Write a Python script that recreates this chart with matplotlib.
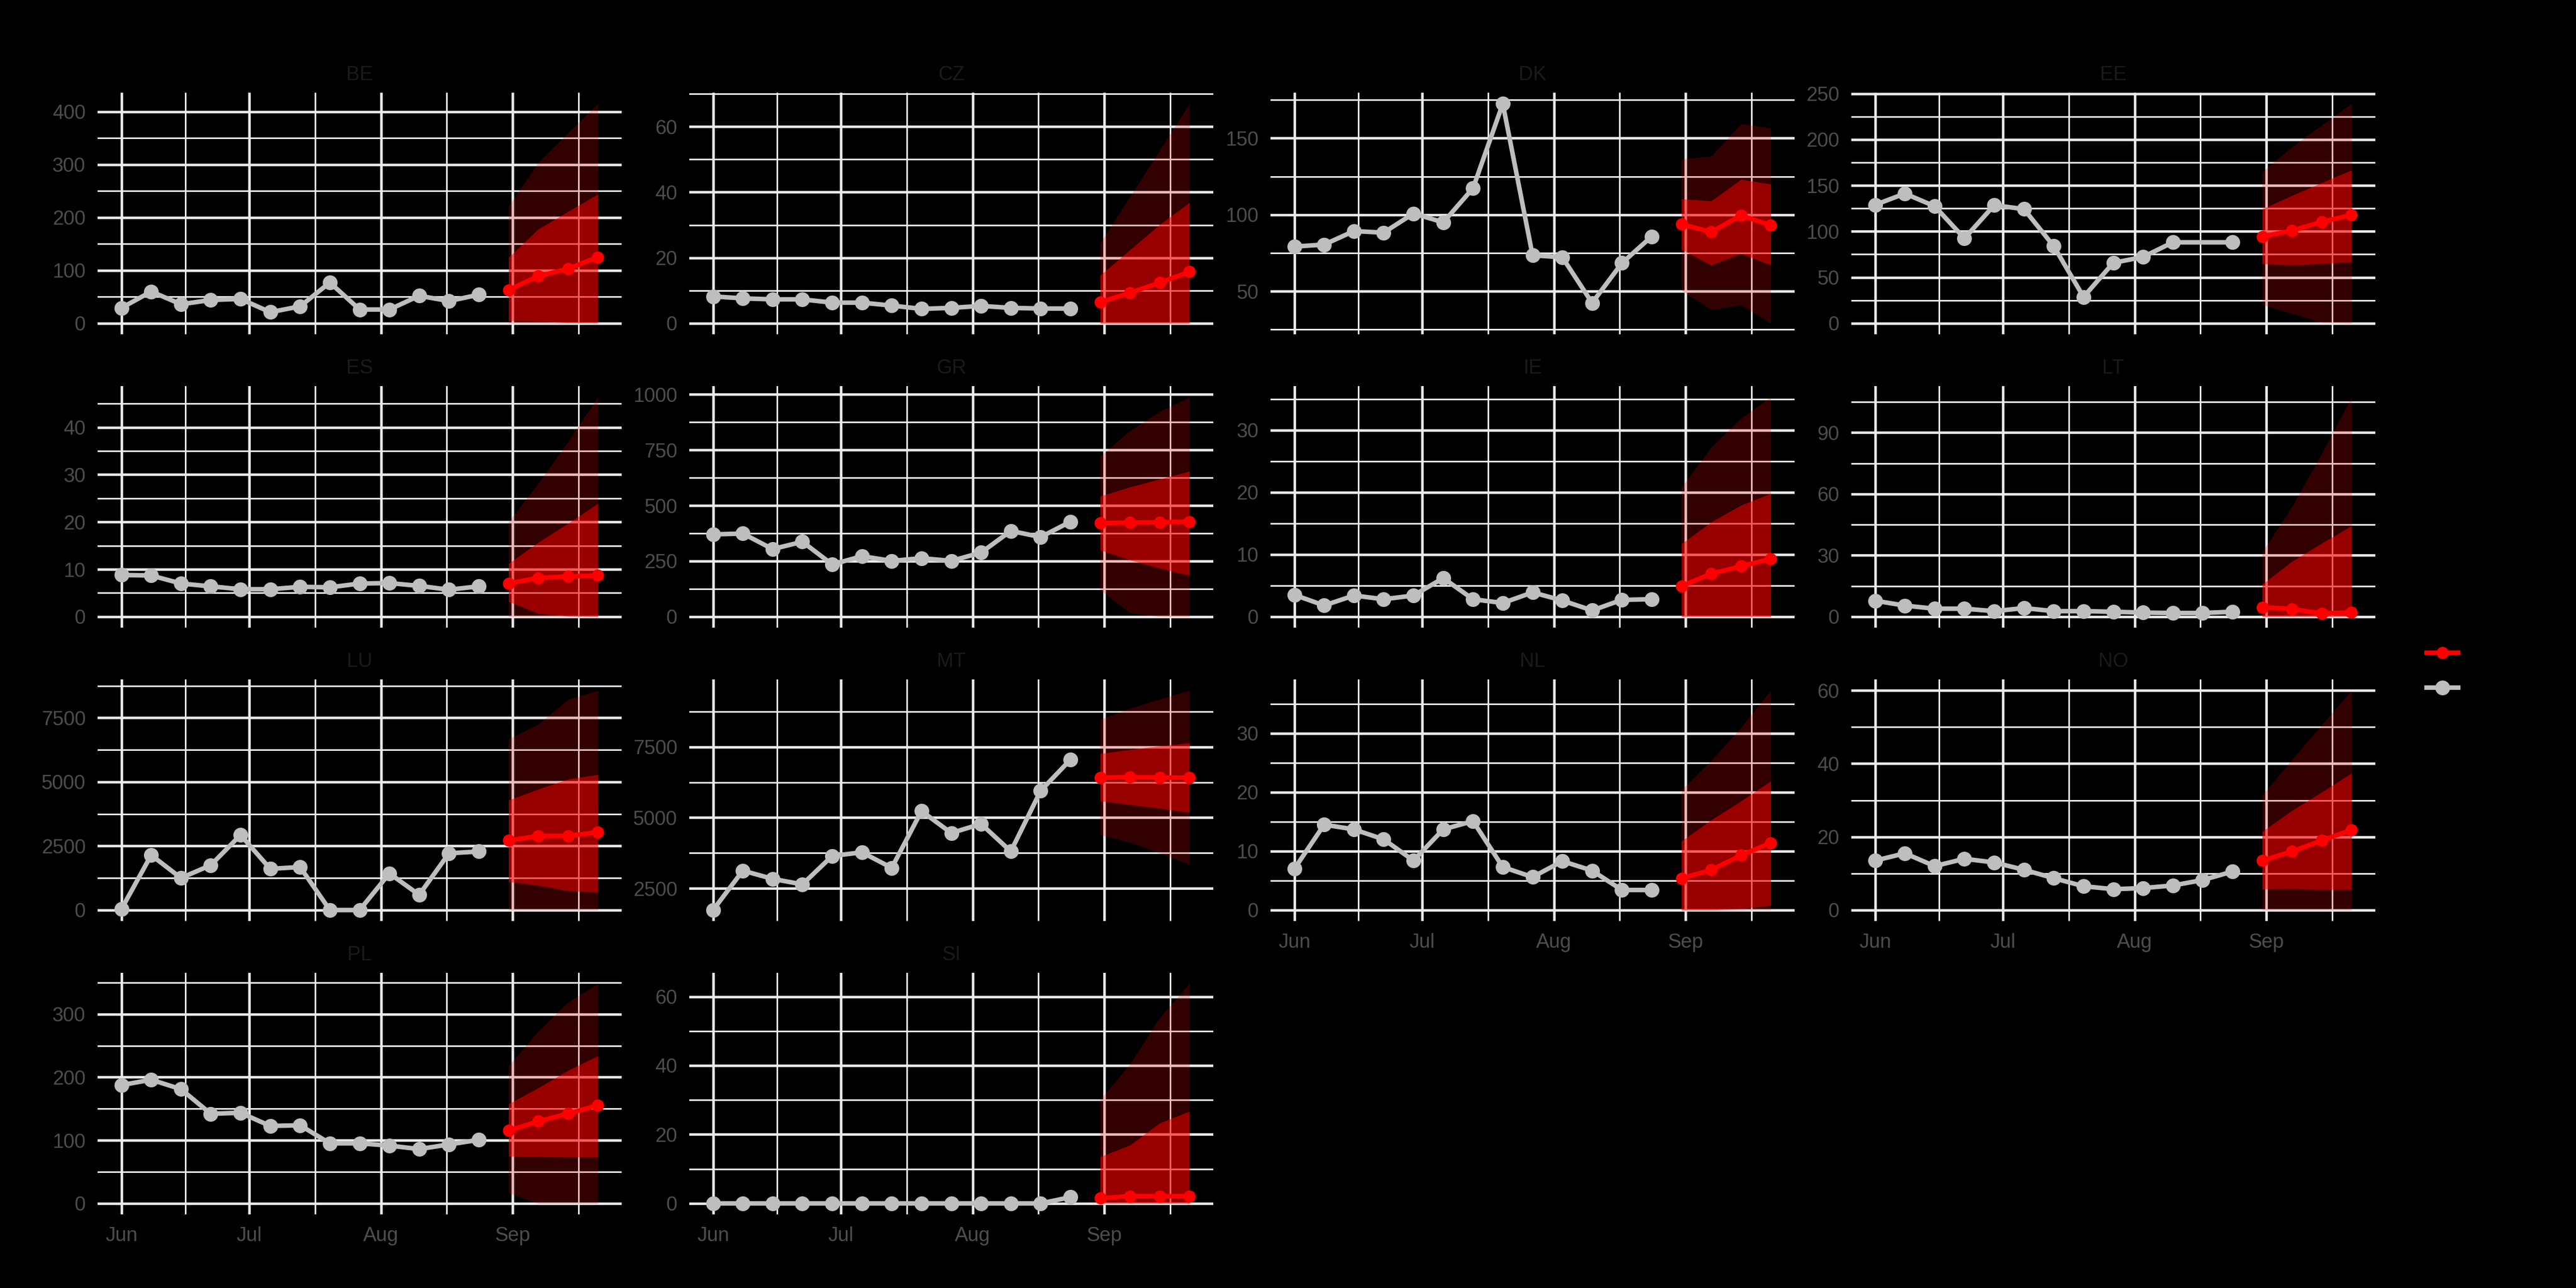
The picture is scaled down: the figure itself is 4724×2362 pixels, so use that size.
import numpy as np
import pandas as pd
import matplotlib
matplotlib.use("Agg")
import matplotlib.pyplot as plt
import matplotlib.dates as mdates
from matplotlib.lines import Line2D

# weekly observations and 4-week forecast
obs_dates = ["2020-06-01", "2020-06-08", "2020-06-15", "2020-06-22", "2020-06-29",
             "2020-07-06", "2020-07-13", "2020-07-20", "2020-07-27", "2020-08-03",
             "2020-08-10", "2020-08-17", "2020-08-24"]
fc_dates = ["2020-08-31", "2020-09-07", "2020-09-14", "2020-09-21"]
month_ticks = ["2020-06-01", "2020-07-01", "2020-08-01", "2020-09-01"]
month_labels = ["Jun", "Jul", "Aug", "Sep"]

BE_obs = [29, 60, 36, 44, 46, 21, 32, 77, 26, 26, 52, 42, 54]
BE_fc = [63, 89, 103, 125]
BE_lo80 = [5, 4, 1, 1]
BE_hi80 = [124, 178, 211, 244]
BE_lo95 = [0, 0, 0, 0]
BE_hi95 = [221, 304, 360, 415]
BE_ticks = [0, 100, 200, 300, 400]

CZ_obs = [8.2, 7.6, 7.3, 7.3, 6.3, 6.3, 5.4, 4.4, 4.7, 5.3, 4.7, 4.5, 4.5]
CZ_fc = [6.4, 9.3, 12.4, 15.7]
CZ_lo80 = [0, 0, 0, 0]
CZ_hi80 = [14.6, 22.4, 30.1, 36.8]
CZ_lo95 = [0, 0, 0, 0]
CZ_hi95 = [24.5, 38.6, 52.8, 67]
CZ_ticks = [0, 20, 40, 60]

DK_obs = [79.2, 80.5, 89.3, 88.3, 100.8, 95, 117.3, 172.5, 73.5, 72.2, 42.4, 68.4, 85.8]
DK_fc = [93.8, 88.7, 99.5, 93.1]
DK_lo80 = [77.3, 67.1, 74.7, 67.1]
DK_hi80 = [110.3, 109, 123, 120]
DK_lo95 = [50.6, 38, 41.1, 29.1]
DK_hi95 = [136.3, 138.2, 159.4, 156.6]
DK_ticks = [50, 100, 150]

EE_obs = [128.9, 141.2, 127.4, 92.4, 128.5, 124.3, 83.9, 28.7, 65.8, 72.2, 88.1, None, 88.1]
EE_fc = [94.5, 100.9, 110.4, 117.9]
EE_lo80 = [64.8, 63.3, 64.8, 66.9]
EE_hi80 = [124.3, 139, 153, 166.7]
EE_lo95 = [20.2, 10.6, 1, 0]
EE_hi95 = [164.6, 192, 215.6, 239]
EE_ticks = [0, 50, 100, 150, 200, 250]

ES_obs = [8.8, 8.7, 7.0, 6.4, 5.8, 5.8, 6.3, 6.2, 7.0, 7.1, 6.5, 5.7, 6.4]
ES_fc = [7.0, 8.2, 8.5, 8.7]
ES_lo80 = [3.2, 0.7, 0.1, 0]
ES_hi80 = [11.2, 15.7, 19.7, 23.9]
ES_lo95 = [0, 0, 0, 0]
ES_hi95 = [20, 28.2, 37, 46.4]
ES_ticks = [0, 10, 20, 30, 40]

GR_obs = [370, 374, 304, 337, 235, 272, 251, 263, 251, 288, 386, 358, 427]
GR_fc = [421, 423, 425, 427]
GR_lo80 = [300, 255, 218, 186]
GR_hi80 = [542, 583, 619, 654]
GR_lo95 = [120, 18, 0, 0]
GR_hi95 = [722, 836, 922, 988]
GR_ticks = [0, 250, 500, 750, 1000]

IE_obs = [3.5, 1.8, 3.4, 2.8, 3.4, 6.2, 2.8, 2.2, 3.9, 2.6, 1.0, 2.7, 2.8]
IE_fc = [4.9, 6.9, 8.1, 9.3]
IE_lo80 = [0, 0, 0, 0]
IE_hi80 = [11.7, 15.2, 17.9, 19.8]
IE_lo95 = [0, 0, 0, 0]
IE_hi95 = [20.8, 27.2, 31.9, 35.3]
IE_ticks = [0, 10, 20, 30]

LT_obs = [7.8, 5.4, 3.9, 3.9, 2.7, 4.2, 2.7, 2.7, 2.4, 2.0, 1.8, 1.8, 2.4]
LT_fc = [4.6, 3.8, 1.5, 2.1]
LT_lo80 = [0, 0, 0, 0]
LT_hi80 = [15.8, 27, 35.9, 44.4]
LT_lo95 = [0, 0, 0, 0]
LT_hi95 = [31.5, 53.8, 79.7, 107.4]
LT_ticks = [0, 30, 60, 90]

LU_obs = [36, 2143, 1250, 1750, 2929, 1607, 1679, 0, 0, 1429, 593, 2214, 2286]
LU_fc = [2714, 2893, 2893, 3036]
LU_lo80 = [1107, 964, 750, 693]
LU_hi80 = [4286, 4714, 5107, 5286]
LU_lo95 = [0, 0, 0, 0]
LU_hi95 = [6679, 7250, 8214, 8571]
LU_ticks = [0, 2500, 5000, 7500]

MT_obs = [1736, 3128, 2837, 2642, 3646, 3776, 3225, 5233, 4456, 4780, 3808, 5946, 7047]
MT_fc = [6412, 6432, 6419, 6412]
MT_lo80 = [5590, 5460, 5330, 5181]
MT_hi80 = [7261, 7403, 7533, 7643]
MT_lo95 = [4391, 4132, 3744, 3355]
MT_hi95 = [8472, 8860, 9184, 9495]
MT_ticks = [2500, 5000, 7500]

NL_obs = [7.0, 14.5, 13.7, 12.0, 8.4, 13.7, 15.1, 7.3, 5.6, 8.3, 6.7, 3.4, 3.4]
NL_fc = [5.4, 6.8, 9.3, 11.4]
NL_lo80 = [0, 0, 0.2, 0.8]
NL_hi80 = [11.7, 15.3, 18.5, 21.9]
NL_lo95 = [0, 0, 0, 0]
NL_hi95 = [20.4, 25.4, 31, 37.3]
NL_ticks = [0, 10, 20, 30]

NO_obs = [13.5, 15.5, 12.0, 14.0, 13.0, 11.0, 8.7, 6.5, 5.7, 6.0, 6.7, 8.2, 10.5]
NO_fc = [13.5, 16.0, 19.0, 21.9]
NO_lo80 = [5.7, 5.8, 5.6, 5.6]
NO_hi80 = [21.4, 27.2, 32.2, 37.4]
NO_lo95 = [0, 0, 0, 0]
NO_hi95 = [31.4, 41.1, 50.6, 60]
NO_ticks = [0, 20, 40, 60]

PL_obs = [187.5, 196, 181, 142, 143.6, 122.7, 123.8, 95.2, 95.2, 91.6, 86.1, 93.4, 100.7]
PL_fc = [115.4, 130, 142.1, 155.7]
PL_lo80 = [75, 74, 73.3, 73.3]
PL_hi80 = [157.5, 183, 210.6, 233.7]
PL_lo95 = [16.5, 0, 0, 0]
PL_hi95 = [218, 273, 318.7, 348]
PL_ticks = [0, 100, 200, 300]

SI_obs = [0, 0, 0, 0, 0, 0, 0, 0, 0, 0, 0, 0, 1.8]
SI_fc = [1.5, 2.1, 2.1, 2.1]
SI_lo80 = [0, 0, 0, 0]
SI_hi80 = [13.5, 16.9, 23.3, 26.7]
SI_lo95 = [0, 0, 0, 0]
SI_hi95 = [30.1, 40.4, 53.9, 63.7]
SI_ticks = [0, 20, 40, 60]

panels = [
    ("BE", BE_obs, BE_fc, BE_lo80, BE_hi80, BE_lo95, BE_hi95, BE_ticks),
    ("CZ", CZ_obs, CZ_fc, CZ_lo80, CZ_hi80, CZ_lo95, CZ_hi95, CZ_ticks),
    ("DK", DK_obs, DK_fc, DK_lo80, DK_hi80, DK_lo95, DK_hi95, DK_ticks),
    ("EE", EE_obs, EE_fc, EE_lo80, EE_hi80, EE_lo95, EE_hi95, EE_ticks),
    ("ES", ES_obs, ES_fc, ES_lo80, ES_hi80, ES_lo95, ES_hi95, ES_ticks),
    ("GR", GR_obs, GR_fc, GR_lo80, GR_hi80, GR_lo95, GR_hi95, GR_ticks),
    ("IE", IE_obs, IE_fc, IE_lo80, IE_hi80, IE_lo95, IE_hi95, IE_ticks),
    ("LT", LT_obs, LT_fc, LT_lo80, LT_hi80, LT_lo95, LT_hi95, LT_ticks),
    ("LU", LU_obs, LU_fc, LU_lo80, LU_hi80, LU_lo95, LU_hi95, LU_ticks),
    ("MT", MT_obs, MT_fc, MT_lo80, MT_hi80, MT_lo95, MT_hi95, MT_ticks),
    ("NL", NL_obs, NL_fc, NL_lo80, NL_hi80, NL_lo95, NL_hi95, NL_ticks),
    ("NO", NO_obs, NO_fc, NO_lo80, NO_hi80, NO_lo95, NO_hi95, NO_ticks),
    ("PL", PL_obs, PL_fc, PL_lo80, PL_hi80, PL_lo95, PL_hi95, PL_ticks),
    ("SI", SI_obs, SI_fc, SI_lo80, SI_hi80, SI_lo95, SI_hi95, SI_ticks),
]
bottom_panels = ["NL", "NO", "PL", "SI"]

plt.rcParams['font.family'] = ['Liberation Sans', 'DejaVu Sans']

W, H = 4724, 2362
fig = plt.figure(figsize=(W / 300, H / 300), dpi=300, facecolor='black')

# panel layout in pixels
lefts = [179, 1264, 2330, 3395]
tops = [170, 708, 1246, 1784]
pw, ph = 961, 443

ox_all = mdates.date2num(pd.to_datetime(obs_dates))
fx = mdates.date2num(pd.to_datetime(fc_dates))
mx = mdates.date2num(pd.to_datetime(month_ticks))
mx_minor = list((mx[:-1] + mx[1:]) / 2) + [mx[-1] + (mx[-1] - mx[-2]) / 2]

xmin, xmax = ox_all[0], fx[-1]
xpad = 0.05 * (xmax - xmin)

grey = '#BEBEBE'

for i, (name, obs, fc, lo80, hi80, lo95, hi95, yt) in enumerate(panels):
    r, c = divmod(i, 4)
    ax = fig.add_axes([lefts[c] / W, 1 - (tops[r] + ph) / H, pw / W, ph / H])
    ax.set_facecolor('none')
    ax.set_axisbelow(True)

    oy = np.array([np.nan if v is None else v for v in obs], dtype=float)
    ok = ~np.isnan(oy)

    ax.fill_between(fx, lo95, hi95, color='red', alpha=0.2, lw=0)
    ax.fill_between(fx, lo80, hi80, color='red', alpha=0.5, lw=0)
    ax.plot(ox_all[ok], oy[ok], color=grey, lw=2, marker='o', ms=5.5, zorder=3)
    ax.plot(fx, fc, color='red', lw=2, marker='o', ms=4.4, zorder=3)

    allv = np.concatenate([oy[ok], fc, lo80, hi80, lo95, hi95])
    ylo, yhi = allv.min(), allv.max()
    ypad = 0.05 * (yhi - ylo)
    ylo, yhi = ylo - ypad, yhi + ypad
    ax.set_xlim(xmin - xpad, xmax + xpad)
    ax.set_ylim(ylo, yhi)

    step = yt[1] - yt[0]
    ymin_ticks = [t + step / 2 for t in [yt[0] - step] + yt]
    ymin_ticks = [t for t in ymin_ticks if ylo <= t <= yhi]
    ax.set_yticks(yt)
    ax.set_yticks(ymin_ticks, minor=True)
    ax.set_xticks(mx)
    ax.set_xticks(mx_minor, minor=True)

    ax.grid(which='major', color='#EBEBEB', lw=1.1)
    ax.grid(which='minor', color='#EBEBEB', lw=0.7)
    ax.tick_params(which='both', length=0, labelsize=8.8, labelcolor='#4D4D4D', pad=5.3)
    for s in ax.spines.values():
        s.set_visible(False)

    if name in bottom_panels:
        ax.set_xticklabels(month_labels)
    else:
        ax.tick_params(axis='x', labelbottom=False)

    ax.set_title(name, fontsize=8.8, color='#1A1A1A', pad=5.5)

handles = [
    Line2D([], [], color='red', lw=2, marker='o', ms=4.4),
    Line2D([], [], color=grey, lw=2, marker='o', ms=5.5),
]
fig.legend(handles, ["forecast", "observed"], loc='center left',
           bbox_to_anchor=(4432 / W, 1 - 1232 / H), frameon=False,
           borderpad=0, handlelength=1.58, handletextpad=0.6,
           labelspacing=0.8, fontsize=8.8, labelcolor='black')

fig.savefig("out.png", dpi=300, facecolor='black')
